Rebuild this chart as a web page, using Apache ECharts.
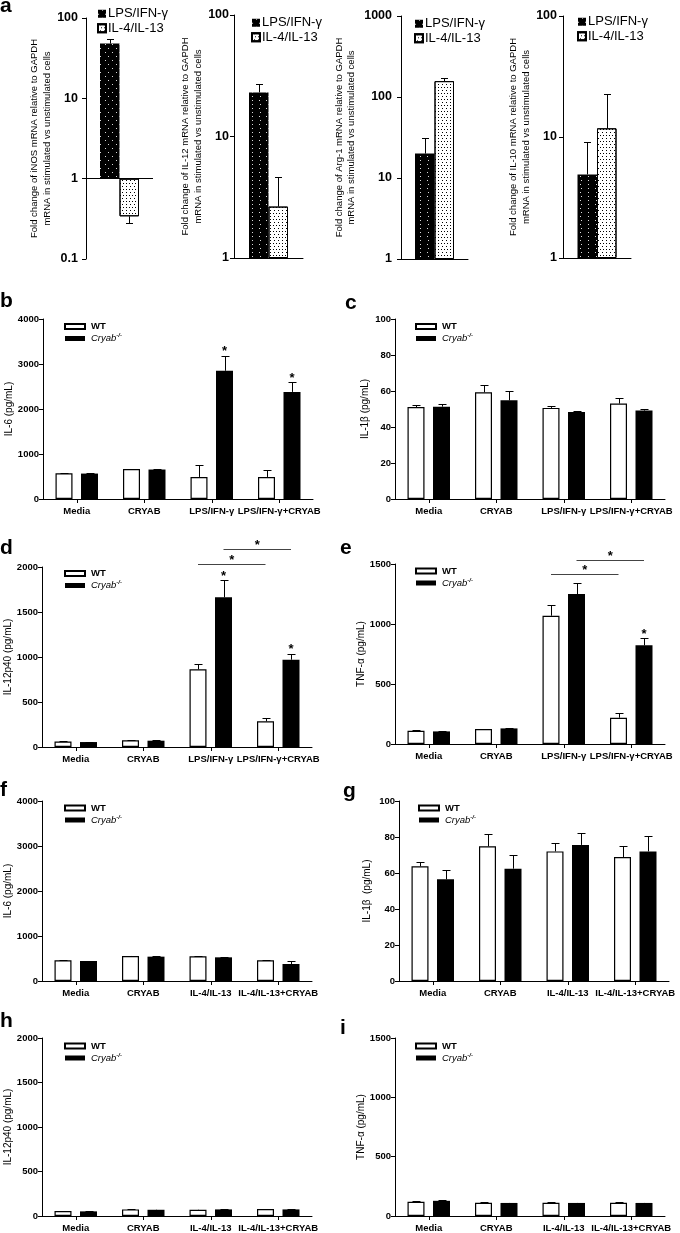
<!DOCTYPE html>
<html><head><meta charset="utf-8">
<script src="https://cdn.jsdelivr.net/npm/echarts@6/dist/echarts.min.js"></script>
<style>html,body{margin:0;padding:0;background:#fff}#c{width:680px;height:1233px}</style>
</head><body><div id="c"></div>
<script>
const FONT = "'Liberation Sans', Arial, sans-serif";

// ---------- Panel a data (fold change, log scale) ----------
const aGroups = ['LPS/IFN-γ', 'IL-4/IL-13'];
const aYNames = [
  'Fold change of iNOS mRNA relative to GAPDH\nmRNA in stimulated vs unstimulated cells',
  'Fold change of IL-12 mRNA relative to GAPDH\nmRNA in stimulated vs unstimulated cells',
  'Fold change of Arg-1 mRNA relative to GAPDH\nmRNA in stimulated vs unstimulated cells',
  'Fold change of IL-10 mRNA relative to GAPDH\nmRNA in stimulated vs unstimulated cells'
];
const aLPS = [48, 23, 20, 4.9];
const aLPSErr = [55, 27, 31, 9.1];
const aIL4 = [0.34, 2.65, 157, 11.8];
const aIL4Err = [0.28, 4.6, 170, 22.6];
const aMin = [0.1, 1, 1, 1];
const aMax = [100, 100, 1000, 100];

// ---------- Panels b–i data ----------
const catsLPS = ['Media', 'CRYAB', 'LPS/IFN-γ', 'LPS/IFN-γ+CRYAB'];
const catsIL4 = ['Media', 'CRYAB', 'IL-4/IL-13', 'IL-4/IL-13+CRYAB'];
const genotypes = ['WT', 'Cryab-/-'];

const bWT = [570, 665, 490, 490];
const bWTErr = [580, 675, 750, 645];
const bKO = [565, 655, 2850, 2380];
const bKOErr = [575, 665, 3185, 2595];
const bStarsKO = [2, 3];

const cWT = [51.1, 59.3, 50.6, 53];
const cWTErr = [52.4, 63.1, 51.9, 56.1];
const cKO = [51.3, 54.8, 48.3, 49.1];
const cKOErr = [53, 59.8, 48.9, 50];

const dWT = [60, 75, 863, 285];
const dWTErr = [63, 78, 918, 322];
const dKO = [55, 70, 1663, 970];
const dKOErr = [58, 73, 1855, 1037];
const dStarsKO = [2, 3];
const dSig = [[2, 3, 0, 2030], [2, 3, 1, 2196]]; // fromCat, toCat, genotype, level

const eWT = [111, 125, 1069, 219];
const eWTErr = [114, 128, 1161, 258];
const eKO = [105, 130, 1250, 822];
const eKOErr = [108, 133, 1339, 880];
const eStarsKO = [3];
const eSig = [[2, 3, 0, 1419], [2, 3, 1, 1536]];

const fWT = [459, 556, 548, 459];
const fWTErr = [465, 562, 554, 465];
const fKO = [444, 541, 526, 378];
const fKOErr = [450, 547, 532, 437];

const gWT = [63.7, 74.8, 72, 68.9];
const gWTErr = [66.1, 81.7, 76.9, 75.2];
const gKO = [56.5, 62.4, 75.6, 72];
const gKOErr = [61.5, 70.2, 82, 80.7];

const hWT = [56, 74, 70, 78];
const hWTErr = [59, 77, 73, 81];
const hKO = [52, 70, 74, 74];
const hKOErr = [55, 73, 77, 77];

const iWT = [120, 112, 112, 112];
const iWTErr = [123, 115, 115, 115];
const iKO = [128, 110, 110, 110];
const iKOErr = [131, 113, 113, 113];

// ---------- styles / layout ----------
const decalLPS = { symbol: 'rect', symbolSize: 1, color: 'rgba(255,255,255,0.85)', dashArrayX: [[1, 6], [0, 3.5, 1, 2.5]], dashArrayY: [1, 3] };
const decalIL4 = { symbol: 'rect', symbolSize: 1, color: '#000', dashArrayX: [[1, 2], [0, 1.5, 1, 0.5]], dashArrayY: [1, 1.2] };

const aLayout = [
  { left: 86, top: 18, width: 67, height: 241, nameGap: 32, margin: 8, legLeft: 92, legTop: 2 },
  { left: 234, top: 15, width: 69, height: 243, nameGap: 28, margin: 5, legLeft: 246, legTop: 11 },
  { left: 401, top: 16, width: 67, height: 243, nameGap: 43, margin: 9, legLeft: 409, legTop: 12 },
  { left: 563, top: 16, width: 68, height: 242, nameGap: 30, margin: 6, legLeft: 572, legTop: 10 }
];
const A_BAR_W = 19.5;

const BAR_W = 17, BAR_GAP = 8.5;
const BAR_OFF = (BAR_W + BAR_GAP) / 2;

const panels = [
  { cats: catsLPS, yName: 'IL-6 (pg/mL)', max: 4000, interval: 1000, wt: bWT, wtErr: bWTErr, ko: bKO, koErr: bKOErr, stars: bStarsKO, sig: [],
    L: { left: 43, top: 319, nameGap: 27, legLeft: 59, legTop: 315.5 } },
  { cats: catsLPS, yName: 'IL-1β (pg/mL)', max: 100, interval: 20, wt: cWT, wtErr: cWTErr, ko: cKO, koErr: cKOErr, stars: [], sig: [],
    L: { left: 395, top: 319, nameGap: 25, legLeft: 410, legTop: 315.5 } },
  { cats: catsLPS, yName: 'IL-12p40 (pg/mL)', max: 2000, interval: 500, wt: dWT, wtErr: dWTErr, ko: dKO, koErr: dKOErr, stars: dStarsKO, sig: dSig,
    L: { left: 42, top: 567, nameGap: 28, legLeft: 59, legTop: 562.5 } },
  { cats: catsLPS, yName: 'TNF-α (pg/mL)', max: 1500, interval: 500, wt: eWT, wtErr: eWTErr, ko: eKO, koErr: eKOErr, stars: eStarsKO, sig: eSig,
    L: { left: 395, top: 564, nameGap: 27, legLeft: 410, legTop: 560 } },
  { cats: catsIL4, yName: 'IL-6 (pg/mL)', max: 4000, interval: 1000, wt: fWT, wtErr: fWTErr, ko: fKO, koErr: fKOErr, stars: [], sig: [],
    L: { left: 42, top: 801, nameGap: 27, legLeft: 59, legTop: 797 } },
  { cats: catsIL4, yName: 'IL-1β  (pg/mL)', max: 100, interval: 20, wt: gWT, wtErr: gWTErr, ko: gKO, koErr: gKOErr, stars: [], sig: [],
    L: { left: 399, top: 801, nameGap: 27, legLeft: 413, legTop: 797 } },
  { cats: catsIL4, yName: 'IL-12p40 (pg/mL)', max: 2000, interval: 500, wt: hWT, wtErr: hWTErr, ko: hKO, koErr: hKOErr, stars: [], sig: [],
    L: { left: 42, top: 1038, nameGap: 27, legLeft: 59, legTop: 1035 } },
  { cats: catsIL4, yName: 'TNF-α (pg/mL)', max: 1500, interval: 500, wt: iWT, wtErr: iWTErr, ko: iKO, koErr: iKOErr, stars: [], sig: [],
    L: { left: 395, top: 1038, nameGap: 27, legLeft: 410, legTop: 1035 } }
];

const letters = [
  { t: 'a', x: 0, y: -4 }, { t: 'b', x: 0, y: 291 }, { t: 'c', x: 345, y: 293 },
  { t: 'd', x: 0, y: 538 }, { t: 'e', x: 340, y: 538 }, { t: 'f', x: 0, y: 780 },
  { t: 'g', x: 343, y: 781 }, { t: 'h', x: 0, y: 1011 }, { t: 'i', x: 340, y: 1018 }
];

// ---------- build option ----------
const plainNum = v => String(+Number(v).toPrecision(6));
const option = {
  animation: false,
  textStyle: { fontFamily: FONT },
  grid: [], xAxis: [], yAxis: [], series: [], legend: [], graphic: []
};

function errRenderer(off, capHalf) {
  return function (params, api) {
    const cat = api.value(0), v0 = api.value(1), v1 = api.value(2), side = api.value(3);
    const p0 = api.coord([cat, v0]), p1 = api.coord([cat, v1]);
    const x = Math.round(p0[0] + side * off) + 0.5;
    const y0 = p0[1], y1 = Math.round(p1[1]) + 0.5;
    return { type: 'group', children: [
      { type: 'line', shape: { x1: x, y1: y0, x2: x, y2: y1 }, style: { stroke: '#000', lineWidth: 1 } },
      { type: 'line', shape: { x1: x - capHalf, y1: y1, x2: x + capHalf, y2: y1 }, style: { stroke: '#000', lineWidth: 1 } }
    ] };
  };
}

// Panel a
aLayout.forEach((L, k) => {
  const gi = option.grid.length;
  option.grid.push({ left: L.left, top: L.top, width: L.width, height: L.height });
  option.xAxis.push({
    type: 'category', gridIndex: gi, data: [''],
    axisLine: { show: aMin[k] >= 1, onZero: false, lineStyle: { color: '#000', width: 1 } },
    axisTick: { show: false }, axisLabel: { show: false }
  });
  option.yAxis.push({
    type: 'log', logBase: 10, gridIndex: gi, min: aMin[k], max: aMax[k],
    name: aYNames[k], nameLocation: 'middle', nameGap: L.nameGap,
    nameTextStyle: { fontSize: 9.5, lineHeight: 12.5, color: '#000', fontFamily: FONT },
    axisLine: { show: true, lineStyle: { color: '#000', width: 1 } },
    axisTick: { show: true, length: 4, lineStyle: { color: '#000' } },
    minorTick: { show: false },
    axisLabel: { fontSize: 12.5, fontWeight: 'bold', color: '#000', margin: L.margin, fontFamily: FONT, formatter: plainNum },
    splitLine: { show: false }
  });
  const lps = {
    type: 'bar', name: aGroups[0], xAxisIndex: gi, yAxisIndex: gi, data: [aLPS[k]],
    barWidth: A_BAR_W, barGap: '0%',
    itemStyle: { color: '#000', decal: decalLPS }
  };
  if (aMin[k] < 1) {
    lps.markLine = { silent: true, symbol: 'none', label: { show: false },
      lineStyle: { color: '#000', width: 1, type: 'solid' }, data: [{ yAxis: 1 }] };
  }
  option.series.push(lps);
  option.series.push({
    type: 'bar', name: aGroups[1], xAxisIndex: gi, yAxisIndex: gi, data: [aIL4[k]],
    barWidth: A_BAR_W, barGap: '0%',
    itemStyle: { color: '#fff', borderColor: '#000', borderWidth: 1, decal: decalIL4 }
  });
  option.series.push({
    type: 'custom', xAxisIndex: gi, yAxisIndex: gi, z: 5,
    encode: { x: 0, y: [1, 2] },
    renderItem: errRenderer(A_BAR_W / 2, 3.5),
    data: [[0, aLPS[k], aLPSErr[k], -1], [0, aIL4[k], aIL4Err[k], 1]]
  });
  option.legend.push({
    left: L.legLeft, top: L.legTop, orient: 'vertical', itemWidth: 8, itemHeight: 8, itemGap: 1,
    icon: 'rect', selectedMode: false, data: aGroups,
    textStyle: { fontSize: 13, color: '#000', lineHeight: 13.5, padding: [0, 0, 0, -3], fontFamily: FONT }
  });
});

// Panels b–i
panels.forEach(P => {
  const L = P.L;
  const gi = option.grid.length;
  option.grid.push({ left: L.left, top: L.top, width: 270, height: 180 });
  option.xAxis.push({
    type: 'category', gridIndex: gi, data: P.cats,
    axisLine: { lineStyle: { color: '#000', width: 1 } },
    axisTick: { show: true, alignWithLabel: true, length: 4, lineStyle: { color: '#000' } },
    axisLabel: { interval: 0, hideOverlap: false, fontSize: 9.5, fontWeight: 'bold', color: '#000', margin: 7, fontFamily: FONT }
  });
  option.yAxis.push({
    type: 'value', gridIndex: gi, min: 0, max: P.max, interval: P.interval,
    name: P.yName, nameLocation: 'middle', nameGap: L.nameGap,
    nameTextStyle: { fontSize: 10, color: '#000', fontFamily: FONT },
    axisLine: { show: true, lineStyle: { color: '#000', width: 1 } },
    axisTick: { show: true, length: 4, lineStyle: { color: '#000' } },
    axisLabel: { fontSize: 9.5, fontWeight: 'bold', color: '#000', margin: 4, fontFamily: FONT, formatter: plainNum },
    splitLine: { show: false }
  });
  option.series.push({
    type: 'bar', name: genotypes[0], xAxisIndex: gi, yAxisIndex: gi, data: P.wt,
    barWidth: BAR_W, barGap: '50%',
    itemStyle: { color: '#fff', borderColor: '#000', borderWidth: 1.2 }
  });
  option.series.push({
    type: 'bar', name: genotypes[1], xAxisIndex: gi, yAxisIndex: gi, data: P.ko,
    barWidth: BAR_W, barGap: '50%',
    itemStyle: { color: '#000' }
  });
  const errData = [];
  P.wt.forEach((v, i) => errData.push([i, v, P.wtErr[i], -1]));
  P.ko.forEach((v, i) => errData.push([i, v, P.koErr[i], 1]));
  option.series.push({
    type: 'custom', xAxisIndex: gi, yAxisIndex: gi, z: 5,
    encode: { x: 0, y: [1, 2] },
    renderItem: errRenderer(BAR_OFF, 4),
    data: errData
  });
  if (P.stars.length) {
    option.series.push({
      type: 'custom', xAxisIndex: gi, yAxisIndex: gi, z: 5,
      encode: { x: 0, y: 1 },
      renderItem: function (params, api) {
        const p = api.coord([api.value(0), api.value(1)]);
        return { type: 'text', style: { text: '*', x: p[0] + BAR_OFF, y: p[1] - 4, align: 'center', verticalAlign: 'middle', font: 'bold 13px ' + FONT, fill: '#000' } };
      },
      data: P.stars.map(i => [i, P.koErr[i]])
    });
  }
  if (P.sig.length) {
    option.series.push({
      type: 'custom', xAxisIndex: gi, yAxisIndex: gi, z: 5,
      encode: { x: 0, y: 3 },
      renderItem: function (params, api) {
        const s = api.value(2) === 0 ? -1 : 1, v = api.value(3);
        const p1 = api.coord([api.value(0), v]), p2 = api.coord([api.value(1), v]);
        const x1 = p1[0] + s * BAR_OFF, x2 = p2[0] + s * BAR_OFF, y = Math.round(p1[1]) + 0.5;
        return { type: 'group', children: [
          { type: 'line', shape: { x1: x1, y1: y, x2: x2, y2: y }, style: { stroke: '#444', lineWidth: 1 } },
          { type: 'text', style: { text: '*', x: (x1 + x2) / 2, y: y - 4, align: 'center', verticalAlign: 'middle', font: 'bold 13px ' + FONT, fill: '#000' } }
        ] };
      },
      data: P.sig
    });
  }
  option.legend.push({
    left: L.legLeft, top: L.legTop, orient: 'vertical', itemWidth: 20, itemHeight: 5, itemGap: 0,
    icon: 'rect', selectedMode: false, data: genotypes,
    formatter: n => n === 'Cryab-/-' ? '{it|Cryab}{sup|-/-}' : n,
    textStyle: {
      fontSize: 9.5, fontWeight: 'bold', color: '#000', lineHeight: 12, padding: [0, 0, 0, 1], fontFamily: FONT,
      rich: {
        it: { fontSize: 9.5, fontStyle: 'italic', fontWeight: 'normal', color: '#000', lineHeight: 12, fontFamily: FONT },
        sup: { fontSize: 6, fontStyle: 'italic', color: '#000', lineHeight: 12, verticalAlign: 'top', fontFamily: FONT }
      }
    }
  });
});

letters.forEach(l => {
  option.graphic.push({ type: 'text', left: l.x, top: l.y, style: { text: l.t, font: 'bold 21px ' + FONT, fill: '#000' } });
});

const chart = echarts.init(document.getElementById('c'), null, { renderer: 'canvas' });
chart.setOption(option);
</script>
</body></html>
